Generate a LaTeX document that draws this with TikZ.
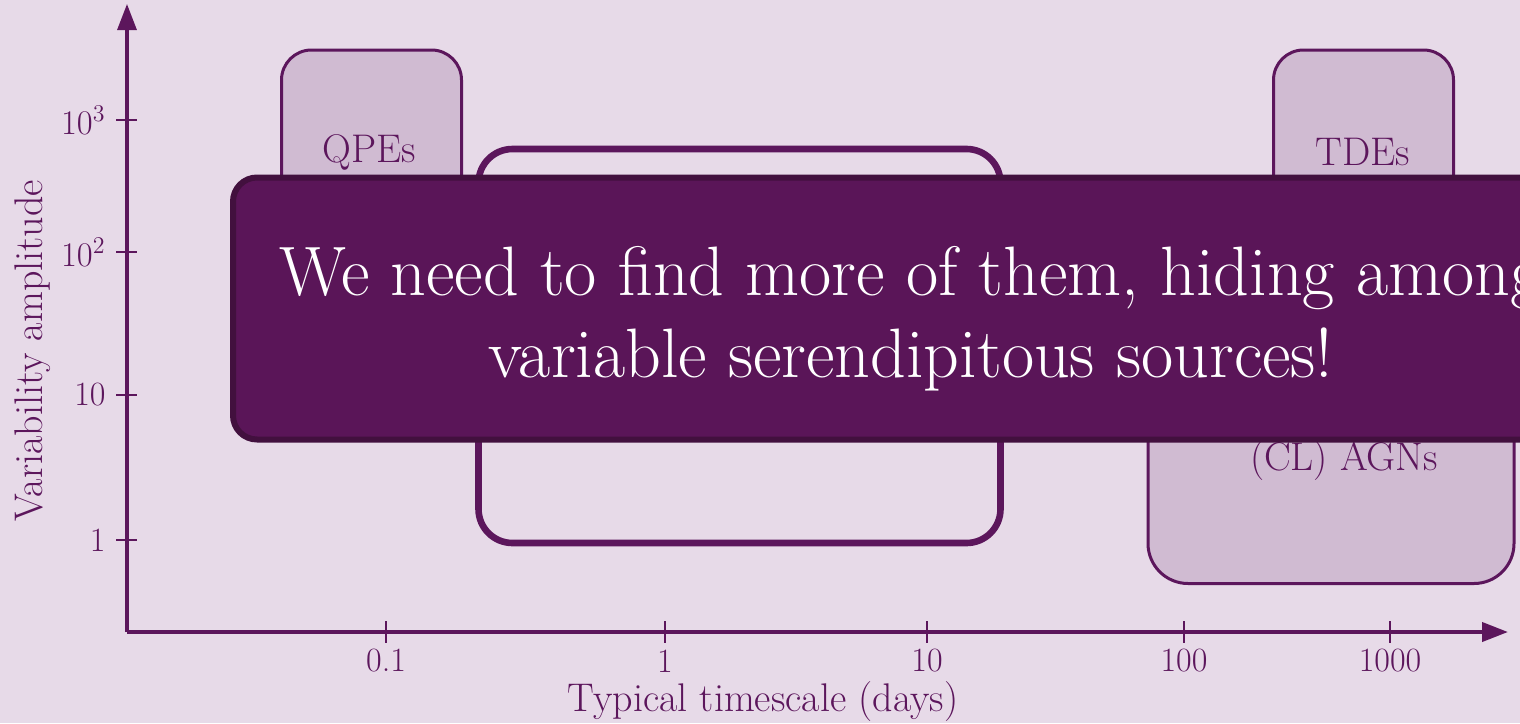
\documentclass[tikz,border=0pt]{standalone}
\usetikzlibrary{arrows.meta}
\definecolor{bg}{RGB}{231,218,232}
\definecolor{pur}{RGB}{92,22,92}
\definecolor{boxfill}{RGB}{208,187,210}
\definecolor{bigfill}{RGB}{90,21,88}
\definecolor{bigedge}{RGB}{66,16,62}
\begin{document}
\begin{tikzpicture}[x=0.5pt,y=-0.5pt,
  axisline/.style={draw=pur, line width=1.6pt},
  ticky/.style={draw=pur, line width=1.4pt},
  tickx/.style={draw=pur, line width=0.8pt},
  ticklabel/.style={text=pur, inner sep=0pt, font=\fontsize{17}{20}\selectfont},
  axislabel/.style={text=pur, inner sep=0pt, font=\fontsize{20}{24}\selectfont},
  srcbox/.style={draw=pur, fill=boxfill, line width=1.5pt, rectangle, rounded corners=15pt, inner sep=0pt},
  srclabel/.style={text=pur, inner sep=0pt, font=\fontsize{20}{24}\selectfont},
  openbox/.style={draw=pur, line width=3.3pt, rectangle, rounded corners=17pt, inner sep=0pt},
  bigbox/.style={draw=bigedge, fill=bigfill, line width=3pt, rectangle, rounded corners=12pt, inner sep=0pt},
  bigtext/.style={text=white, align=center, inner sep=0pt, font=\fontsize{35}{41}\selectfont},
  arrowtip/.style={-{Triangle[length=13pt,width=9.5pt]}}
]
\fill[bg] (0,0) rectangle (1520,723);
\useasboundingbox (0,0) rectangle (1520,723);
\clip (0,0) rectangle (1520,723);

% axes
\coordinate (O) at (127,632);
\coordinate (ytip) at (127,4);
\coordinate (xtip) at (1508,632);
\draw[axisline, arrowtip] (O) -- (ytip);
\draw[axisline, line width=2pt, arrowtip] (O) -- (xtip);

% y ticks
\foreach \yy/\lab/\nm in {120/{$10^3$}/ya, 252/{$10^2$}/yb, 395/{10}/yc, 540/{1}/yd}{
  \coordinate (\nm l) at (116,\yy);
  \coordinate (\nm r) at (137,\yy);
  \draw[ticky] (\nm l) -- (\nm r);
  \node[ticklabel, anchor=east] (\nm t) at (106,\yy) {\lab};
}
% x ticks
\foreach \xx/\lab/\nm in {386/{0.1}/xa, 665/{1}/xb, 927/{10}/xc, 1184/{100}/xd, 1390/{1000}/xe}{
  \coordinate (\nm u) at (\xx,621);
  \coordinate (\nm d) at (\xx,643);
  \draw[tickx] (\nm u) -- (\nm d);
  \node[ticklabel] (\nm t) at (\xx,661) {\lab};
}
\node[axislabel] (xlab) at (763,702) {Typical timescale (days)};
\node[axislabel, rotate=90] (ylab) at (33,351) {Variability amplitude};

% source boxes
\node[srcbox, minimum width=90pt, minimum height=135pt] (qpe) at (371.5,185) {};
\node[srclabel] (qpet) at (369,152) {QPEs};
\node[srcbox, minimum width=90pt, minimum height=135pt] (tde) at (1363.5,185) {};
\node[srclabel] (tdet) at (1363,152) {TDEs};
\node[srcbox, rounded corners=20pt, minimum width=183pt, minimum height=142pt] (agn) at (1331,441.5) {};
\node[srclabel] (agnt) at (1344,461) {(CL) AGNs};
\node[openbox, minimum width=261pt, minimum height=197pt] (mid) at (739.5,346) {};

% overlay box
\node[bigbox, minimum width=678pt, minimum height=131pt] (big) at (911,308.5) {};
\node[bigtext] (bigt) at ([yshift=-5pt]big.center) {We need to find more of them, hiding among\\variable serendipitous sources!};
\end{tikzpicture}
\end{document}
